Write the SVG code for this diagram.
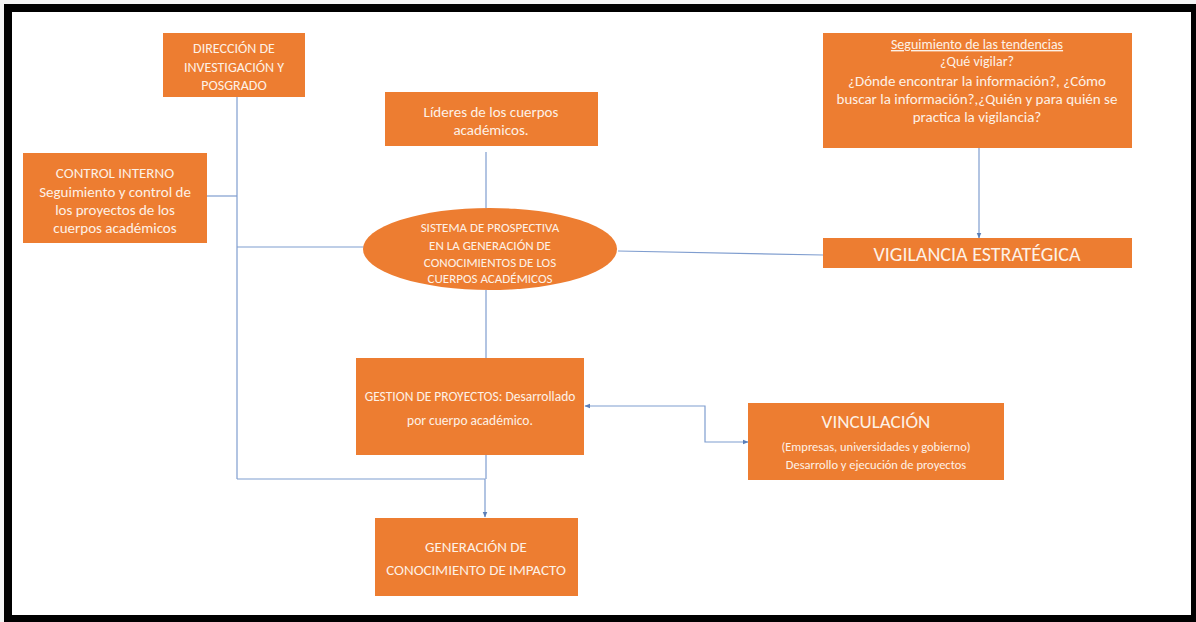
<svg xmlns="http://www.w3.org/2000/svg" width="1196" height="622" viewBox="0 0 1196 622">
  <defs>
    <marker id="arrow" viewBox="0 0 10 10" refX="9" refY="5" markerWidth="6" markerHeight="6" orient="auto-start-reverse" markerUnits="userSpaceOnUse">
      <path d="M0,1 L10,5 L0,9 z" fill="#5b7fb8"/>
    </marker>
    <style>
      .box { fill: #ed7d31; }
      .t { font-family: "Carlito", "Liberation Sans", Arial, sans-serif; fill: #fdf1e6; text-anchor: middle; }
      .s14 { font-size: 14px; }
      .s15 { font-size: 15px; }
      .s13 { font-size: 13px; }
      .s12 { font-size: 12.5px; }
      .s135 { font-size: 13.5px; }
      .s19 { font-size: 19px; }
      .s20 { font-size: 20px; }
      .conn { fill: none; stroke: #7f9dcf; stroke-width: 1.2; }
    </style>
  </defs>

  <!-- page frame -->
  <rect x="0" y="0" width="1196" height="622" fill="#f4f4f4"/>
  <rect x="4" y="4" width="1192" height="618" fill="#000"/>
  <rect x="12" y="12" width="1179" height="603" fill="#fff"/>

  <!-- connectors -->
  <g id="connectors">
    <path class="conn" d="M237,97 V479"/>
    <path class="conn" d="M207,196 H237"/>
    <path class="conn" d="M237,247 H364"/>
    <path class="conn" d="M237,479 H485 V517" marker-end="url(#arrow)"/>
    <path class="conn" d="M486,152 V208"/>
    <path class="conn" d="M486,290 V358"/>
    <path class="conn" d="M486,455 V479"/>
    <path class="conn" d="M618,251 L823,255"/>
    <path class="conn" d="M979,148 V238" marker-end="url(#arrow)"/>
    <path class="conn" d="M585,406 H705 V442 H748" marker-start="url(#arrow)" marker-end="url(#arrow)"/>
  </g>

  <!-- Dirección de investigación y posgrado -->
  <g id="direccion">
    <rect class="box" x="163" y="33" width="142" height="64"/>
    <text class="t s14" x="234" y="53">DIRECCIÓN DE</text>
    <text class="t s14" x="234" y="72">INVESTIGACIÓN Y</text>
    <text class="t s14" x="234" y="90">POSGRADO</text>
  </g>

  <!-- Control interno -->
  <g id="control-interno">
    <rect class="box" x="23" y="153" width="184" height="90"/>
    <text class="t s15" x="115" y="178">CONTROL INTERNO</text>
    <text class="t s15" x="115" y="197">Seguimiento y control de</text>
    <text class="t s15" x="115" y="215">los proyectos de los</text>
    <text class="t s15" x="115" y="233">cuerpos académicos</text>
  </g>

  <!-- Líderes de los cuerpos académicos -->
  <g id="lideres">
    <rect class="box" x="385" y="92" width="213" height="54"/>
    <text class="t s15" x="491" y="117">Líderes de los cuerpos</text>
    <text class="t s15" x="491" y="135">académicos.</text>
  </g>

  <!-- Sistema de prospectiva -->
  <g id="sistema">
    <ellipse class="box" cx="490" cy="249" rx="127" ry="41"/>
    <text class="t s13" x="490" y="232">SISTEMA DE PROSPECTIVA</text>
    <text class="t s13" x="490" y="250">EN LA GENERACIÓN DE</text>
    <text class="t s13" x="490" y="267">CONOCIMIENTOS DE LOS</text>
    <text class="t s13" x="490" y="283">CUERPOS ACADÉMICOS</text>
  </g>

  <!-- Seguimiento de las tendencias -->
  <g id="seguimiento">
    <rect class="box" x="823" y="33" width="309" height="115"/>
    <text class="t s14" x="977" y="49" text-decoration="underline">Seguimiento de las tendencias</text>
    <text class="t s14" x="977" y="66">¿Qué vigilar?</text>
    <text class="t s15" x="977" y="86">¿Dónde encontrar la información?, ¿Cómo</text>
    <text class="t s15" x="977" y="104">buscar la información?,¿Quién y para quién se</text>
    <text class="t s15" x="977" y="122">practica la vigilancia?</text>
  </g>

  <!-- Vigilancia estratégica -->
  <g id="vigilancia">
    <rect class="box" x="823" y="238" width="309" height="30"/>
    <text class="t s20" x="977" y="261">VIGILANCIA ESTRATÉGICA</text>
  </g>

  <!-- Gestión de proyectos -->
  <g id="gestion">
    <rect class="box" x="356" y="358" width="228" height="97"/>
    <text class="t s135" x="470" y="401">GESTION DE PROYECTOS: Desarrollado</text>
    <text class="t s135" x="470" y="425">por cuerpo académico.</text>
  </g>

  <!-- Vinculación -->
  <g id="vinculacion">
    <rect class="box" x="748" y="403" width="256" height="77"/>
    <text class="t s19" x="876" y="428">VINCULACIÓN</text>
    <text class="t s12" x="876" y="451">(Empresas, universidades y gobierno)</text>
    <text class="t s12" x="876" y="469">Desarrollo y ejecución de proyectos</text>
  </g>

  <!-- Generación de conocimiento de impacto -->
  <g id="generacion">
    <rect class="box" x="375" y="518" width="203" height="78"/>
    <text class="t s15" x="476" y="552">GENERACIÓN DE</text>
    <text class="t s15" x="476" y="575">CONOCIMIENTO DE IMPACTO</text>
  </g>
</svg>
